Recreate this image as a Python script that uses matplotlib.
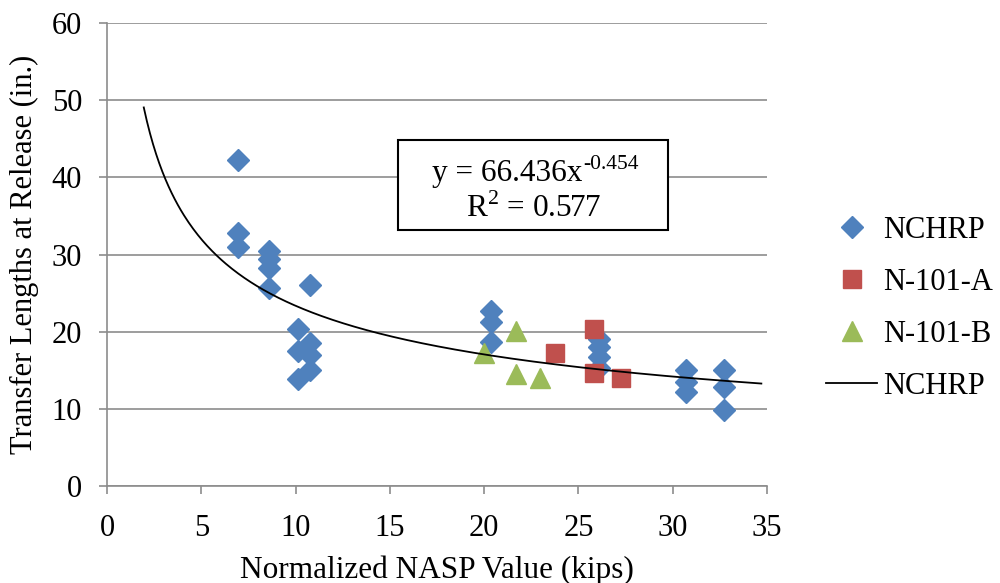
import numpy as np
import matplotlib
matplotlib.use("Agg")
import matplotlib.pyplot as plt
from matplotlib.patches import Rectangle

plt.rcParams['font.family'] = ['Liberation Serif', 'DejaVu Serif']

nchrp_x = [6.96, 6.96, 6.96, 8.61, 8.61, 8.61, 8.61, 10.76, 10.11, 10.11, 10.11,
           10.76, 10.76, 10.76, 20.34, 20.34, 20.34, 26.1, 26.1, 26.1, 26.1,
           30.73, 30.73, 30.73, 32.7, 32.7, 32.7]
nchrp_y = [42.2, 32.8, 31.0, 30.4, 29.4, 28.2, 25.7, 26.1, 20.3, 17.5, 13.9,
           18.5, 17.0, 15.0, 22.7, 21.3, 18.7, 19.0, 18.0, 16.7, 15.3,
           15.0, 13.5, 12.2, 15.0, 12.8, 9.9]
n101a_x = [23.75, 25.8, 25.8, 27.25]
n101a_y = [17.3, 20.3, 14.6, 14.0]
n101b_x = [20.0, 21.7, 21.7, 22.96]
n101b_y = [17.2, 20.1, 14.5, 14.0]
fit_a = 66.436
fit_b = -0.454
fit_x_range = [1.95, 34.7]

fig = plt.figure(figsize=(10, 5.83), dpi=100)
ax = fig.add_axes([0.107, 0.1664, 0.66, 0.7941])

ax.set_xlim(0, 35)
ax.set_ylim(0, 60)
ax.set_xticks(range(0, 36, 5))
ax.set_yticks(range(0, 61, 10))
ax.yaxis.grid(True, color='#8c8c8c', linewidth=1.2)
ax.set_axisbelow(True)
for s in ['top', 'right']:
    ax.spines[s].set_visible(False)
for s in ['left', 'bottom']:
    ax.spines[s].set_color('#8c8c8c')
    ax.spines[s].set_linewidth(1.2)
ax.tick_params(axis='both', colors='#8c8c8c', labelcolor='black', labelsize=22,
               length=6, width=1.2, direction='out')
ax.tick_params(axis='x', pad=14)
ax.tick_params(axis='y', pad=12)

ax.plot(nchrp_x, nchrp_y, linestyle='none', marker='D', markersize=11,
        color='#4F81BD', label='NCHRP', zorder=3)
ax.plot(n101a_x, n101a_y, linestyle='none', marker='s', markersize=13,
        color='#C0504D', label='N-101-A', zorder=4)
ax.plot(n101b_x, n101b_y, linestyle='none', marker='^', markersize=14,
        color='#9BBB59', label='N-101-B', zorder=4)
xx = np.linspace(fit_x_range[0], fit_x_range[1], 400)
ax.plot(xx, fit_a * xx ** fit_b, color='black', linewidth=1.3,
        label='NCHRP', zorder=5)

# equation box
ax.add_patch(Rectangle((0.441, 0.553), 0.409, 0.194, transform=ax.transAxes,
                       facecolor='white', edgecolor='black', linewidth=1.5,
                       zorder=6, clip_on=False))
t1 = ax.text(0.7197, 0.676, 'y = 66.436x', transform=ax.transAxes,
             ha='right', va='center', fontsize=22.5, zorder=7)
ax.annotate('-0.454', xy=(1.0, 0.78), xycoords=t1, xytext=(1, 0),
            textcoords='offset points', ha='left', va='center',
            fontsize=15.5, zorder=7)
ax.text(0.647, 0.6, 'R$^{\\mathregular{2}}$ = 0.577', transform=ax.transAxes,
        ha='center', va='center', fontsize=22.5, zorder=7)

ax.set_xlabel('Normalized NASP Value (kips)', fontsize=22.5, labelpad=9)
ax.set_ylabel('Transfer Lengths at Release (in.)', fontsize=22, labelpad=9)

leg = ax.legend(loc='center left', bbox_to_anchor=(1.09, 0.384), frameon=False,
                fontsize=22, handlelength=1.67, labelspacing=0.75,
                handletextpad=0.2, borderpad=0, borderaxespad=0)

fig.savefig('out.png', dpi=100)
